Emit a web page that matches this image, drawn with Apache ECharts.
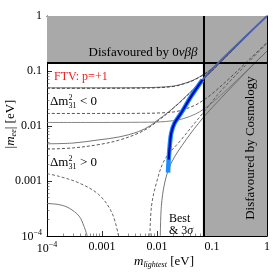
<!DOCTYPE html>
<html><head><meta charset="utf-8">
<script src="https://cdn.jsdelivr.net/npm/echarts@6/dist/echarts.min.js"></script>
<style>html,body{margin:0;padding:0;background:#fff}#c{width:273px;height:274px}</style>
</head><body><div id="c"></div>
<script>
// ---- data ----
const xTicks = [1e-4, 1e-3, 1e-2, 1e-1, 1];
const xTickLabels = ['{b|10}{s|−4}', '0.001', '0.01', '0.1', '1'];
const yTicks = [1e-4, 1e-3, 1e-2, 1e-1, 1];
const yTickLabels = ['{b|10}{s|−4}', '0.001', '0.01', '0.1', '1'];

const bound0nbb = 0.14;   // |m_ee| bound
const boundCosmo = 0.068; // m_lightest bound

// inverted ordering
const ioUpperBest = [[1e-4,0.0495],[0.001,0.0495],[0.005,0.0498],[0.01,0.0505],[0.02,0.0532],[0.03,0.0587],[0.045,0.0677],[0.07,0.0862],[0.1,0.111],[0.2,0.206],[0.5,0.502],[1,1.0]];
const ioUpper3s   = [[1e-4,0.0485],[0.001,0.0485],[0.005,0.0488],[0.01,0.0496],[0.02,0.0524],[0.03,0.058],[0.045,0.067],[0.07,0.0856],[0.1,0.110],[0.2,0.205],[0.5,0.501],[1,1.0]];
const ioLower3s   = [[1e-4,0.0169],[0.001,0.0169],[0.005,0.0170],[0.01,0.0172],[0.02,0.0180],[0.03,0.0198],[0.05,0.0241],[0.07,0.0295],[0.1,0.0384],[0.2,0.071],[0.5,0.17],[1,0.33]];
const ioLowerBest = [[1e-4,0.0116],[0.001,0.0116],[0.005,0.0117],[0.01,0.0118],[0.02,0.0125],[0.03,0.0136],[0.05,0.0165],[0.07,0.0202],[0.1,0.0263],[0.2,0.0486],[0.5,0.118],[1,0.23]];
// normal ordering
const noUpperBest = [[1e-4,0.00475],[0.0003,0.0049],[0.00088,0.0056],[0.002,0.0063],[0.0046,0.0079],[0.0075,0.0101],[0.0105,0.013],[0.015,0.0169],[0.02,0.0215],[0.03,0.031],[0.05,0.051],[0.07,0.071],[0.1,0.1],[1,1.0]];
const noUpper3s   = [[1e-4,0.0038],[0.0003,0.0040],[0.00088,0.0046],[0.002,0.0055],[0.0046,0.0074],[0.0075,0.0097],[0.0105,0.0125],[0.015,0.0165],[0.02,0.0212],[0.03,0.0306],[0.05,0.0505],[0.07,0.0705],[0.1,0.1],[1,1.0]];
const noLowerBestLeft  = [[1e-4,0.00039],[0.00017,0.00037],[0.000254,0.00032],[0.000383,0.00023],[0.000471,0.00015],[0.00054,0.0001]];
const noLower3sLeft    = [[1e-4,0.00136],[0.000168,0.00121],[0.000383,0.00092],[0.000877,0.000564],[0.00152,0.000262],[0.002,0.0001]];
const noLower3sRight   = [[0.00743,0.0001],[0.00794,0.000346],[0.00975,0.00092],[0.0138,0.00244],[0.0274,0.0056],[0.068,0.0171],[0.15,0.045],[0.4,0.125],[1,0.32]];
const noLowerBestRight = [[0.0115,0.0001],[0.012,0.000346],[0.0138,0.00092],[0.0181,0.00212],[0.0337,0.0056],[0.068,0.0139],[0.15,0.033],[0.4,0.092],[1,0.23]];
// FTV prediction (p = +1)
const ftvHalo  = [[0.0159,0.00142],[0.0163,0.00244],[0.017,0.00425],[0.01815,0.00743],[0.0209,0.0113],[0.0274,0.0171],[0.0415,0.0343],[0.067,0.069]];
const ftvCore  = [[0.0163,0.00244],[0.017,0.00425],[0.01815,0.00743],[0.0209,0.0113],[0.0274,0.0171],[0.0415,0.0343],[0.067,0.069]];
const ftvUpper = [[0.067,0.069],[0.13,0.14],[1,1.0]];

// ---- rendering ----
const SERIF = '"Liberation Serif","DejaVu Serif",serif';
const minorTicks = [];
for (let i = 0; i < xTicks.length - 1; i++) for (let k = 2; k <= 9; k++) minorTicks.push(xTicks[i] * k);

function labelFor(ticks, labels) {
  return function (v) {
    const k = Math.round(Math.log10(v));
    const i = ticks.findIndex(t => Math.round(Math.log10(t)) === k);
    return i >= 0 ? labels[i] : '';
  };
}
const labelRich = {
  b: {fontFamily: SERIF, fontSize: 12, color: '#000', verticalAlign: 'bottom', lineHeight: 14},
  s: {fontFamily: SERIF, fontSize: 8, color: '#000', verticalAlign: 'top', lineHeight: 14}
};
function axis(kind, pos, major, showLabel) {
  const ticks = kind === 'x' ? xTicks : yTicks;
  const labels = kind === 'x' ? xTickLabels : yTickLabels;
  return {
    type: 'log', logBase: 10, min: 1e-4, max: 1, position: pos, gridIndex: 0,
    axisLine: {show: major, onZero: false, lineStyle: {color: '#000', width: 1}},
    axisTick: major ? {show: true, inside: true, length: 5, lineStyle: {color: '#000', width: 0.8}}
                    : {show: true, inside: true, length: 2.5, customValues: minorTicks, lineStyle: {color: '#444', width: 0.6}},
    axisLabel: showLabel ? {show: true, formatter: labelFor(ticks, labels), margin: 5,
                fontFamily: SERIF, fontSize: 12, color: '#000', rich: labelRich} : {show: false},
    splitLine: {show: false}, minorSplitLine: {show: false}
  };
}
function line(data, dashed, color, width, z) {
  return {type: 'line', data: data, showSymbol: false, symbol: 'none', smooth: 0.35, z: z || 3,
    lineStyle: {color: color, width: width, type: dashed ? [3, 2] : 'solid'}, silent: true, animation: false};
}

const option = {
  animation: false,
  backgroundColor: '#fff',
  grid: {left: 47, right: 3, top: 16, bottom: 38, show: false},
  xAxis: [axis('x','bottom',true,true), axis('x','bottom',false,false), axis('x','top',true,false), axis('x','top',false,false)],
  yAxis: [axis('y','left',true,true), axis('y','left',false,false), axis('y','right',true,false), axis('y','right',false,false)],
  series: [
    {type: 'line', data: [], z: 1, silent: true,
      markArea: {silent: true, itemStyle: {color: '#a9a9a9'}, data: [
        [{xAxis: 1e-4, yAxis: bound0nbb}, {xAxis: 1, yAxis: 1}],
        [{xAxis: boundCosmo, yAxis: 1e-4}, {xAxis: 1, yAxis: bound0nbb}]
      ]}},
    line(ioUpperBest, false, '#666', 0.9),
    line(ioUpper3s, true, '#333', 0.9),
    line(ioLowerBest, false, '#777', 0.9),
    line(ioLower3s, true, '#444', 0.9),
    line(noUpperBest, false, '#666', 0.9),
    line(noUpper3s, true, '#444', 0.9),
    line(noLowerBestLeft, false, '#666', 0.9),
    line(noLower3sLeft, true, '#555', 0.9),
    line(noLowerBestRight, false, '#666', 0.9),
    line(noLower3sRight, true, '#555', 0.9),
    line(ftvHalo, false, '#1a8cff', 4.5, 5),
    line(ftvCore, false, '#0008b8', 2.2, 6),
    line(ftvUpper, false, '#4c60b0', 1.8, 6),
    {type: 'line', data: [], z: 8, silent: true,
      markLine: {silent: true, symbol: ['none','none'], label: {show: false},
        lineStyle: {color: '#000', width: 2, type: 'solid'},
        data: [{xAxis: boundCosmo}, {yAxis: bound0nbb}]}}
  ],
  graphic: [
    {type: 'text', x: 143, y: 53, z: 20, style: {text: '{n|Disfavoured by 0}{i|νββ}', align: 'center', verticalAlign: 'middle',
      rich: {n: {fontFamily: SERIF, fontSize: 13, fill: '#000'}, i: {fontFamily: SERIF, fontSize: 13, fontStyle: 'italic', fill: '#000'}}}},
    {type: 'text', x: 54, y: 77, z: 20, style: {text: 'FTV: p=+1', font: '12px ' + SERIF, fill: '#ee1c1c', align: 'left', verticalAlign: 'middle'}},
    {type: 'text', x: 50, y: 102, z: 20, style: {text: 'Δm', font: '13px ' + SERIF, fill: '#000', align: 'left', verticalAlign: 'middle'}},
    {type: 'text', x: 68.5, y: 98, z: 20, style: {text: '2', font: '8px ' + SERIF, fill: '#000', align: 'left', verticalAlign: 'middle'}},
    {type: 'text', x: 68.5, y: 106, z: 20, style: {text: '31', font: '8px ' + SERIF, fill: '#000', align: 'left', verticalAlign: 'middle'}},
    {type: 'text', x: 80, y: 102, z: 20, style: {text: '< 0', font: '13px ' + SERIF, fill: '#000', align: 'left', verticalAlign: 'middle'}},
    {type: 'text', x: 50, y: 163, z: 20, style: {text: 'Δm', font: '13px ' + SERIF, fill: '#000', align: 'left', verticalAlign: 'middle'}},
    {type: 'text', x: 68.5, y: 159, z: 20, style: {text: '2', font: '8px ' + SERIF, fill: '#000', align: 'left', verticalAlign: 'middle'}},
    {type: 'text', x: 68.5, y: 167, z: 20, style: {text: '31', font: '8px ' + SERIF, fill: '#000', align: 'left', verticalAlign: 'middle'}},
    {type: 'text', x: 80, y: 163, z: 20, style: {text: '> 0', font: '13px ' + SERIF, fill: '#000', align: 'left', verticalAlign: 'middle'}},
    {type: 'text', x: 169, y: 219, z: 20, style: {text: 'Best', font: '12px ' + SERIF, fill: '#000', align: 'left', verticalAlign: 'middle'}},
    {type: 'text', x: 169, y: 231, z: 20, style: {text: '{n|& 3}{i|σ}', align: 'left', verticalAlign: 'middle',
      rich: {n: {fontFamily: SERIF, fontSize: 12, fill: '#000'}, i: {fontFamily: SERIF, fontSize: 12, fontStyle: 'italic', fill: '#000'}}}},
    {type: 'text', x: 251, y: 148, rotation: Math.PI / 2, z: 20, style: {text: 'Disfavoured by Cosmology', font: '13px ' + SERIF, fill: '#000', align: 'center', verticalAlign: 'middle'}},
    {type: 'text', x: 164, y: 262, z: 20, style: {text: '{i|m}{s|lightest}{n| [eV]}', align: 'center', verticalAlign: 'middle',
      rich: {i: {fontFamily: SERIF, fontSize: 13, fontStyle: 'italic', fill: '#000', verticalAlign: 'top', lineHeight: 14},
             s: {fontFamily: SERIF, fontSize: 8, fontStyle: 'italic', fill: '#000', verticalAlign: 'bottom', lineHeight: 14},
             n: {fontFamily: SERIF, fontSize: 13, fill: '#000', verticalAlign: 'top', lineHeight: 14}}}},
    {type: 'text', x: 11, y: 124, rotation: Math.PI / 2, z: 20, style: {text: '{n||}{i|m}{s|ee}{n|| [eV]}', align: 'center', verticalAlign: 'middle',
      rich: {i: {fontFamily: SERIF, fontSize: 13, fontStyle: 'italic', fill: '#000', verticalAlign: 'top', lineHeight: 14},
             s: {fontFamily: SERIF, fontSize: 8, fontStyle: 'italic', fill: '#000', verticalAlign: 'bottom', lineHeight: 14},
             n: {fontFamily: SERIF, fontSize: 13, fill: '#000', verticalAlign: 'top', lineHeight: 14}}}}
  ]
};
const chart = echarts.init(document.getElementById('c'), null, {renderer: 'canvas'});
chart.setOption(option);
</script></body></html>
